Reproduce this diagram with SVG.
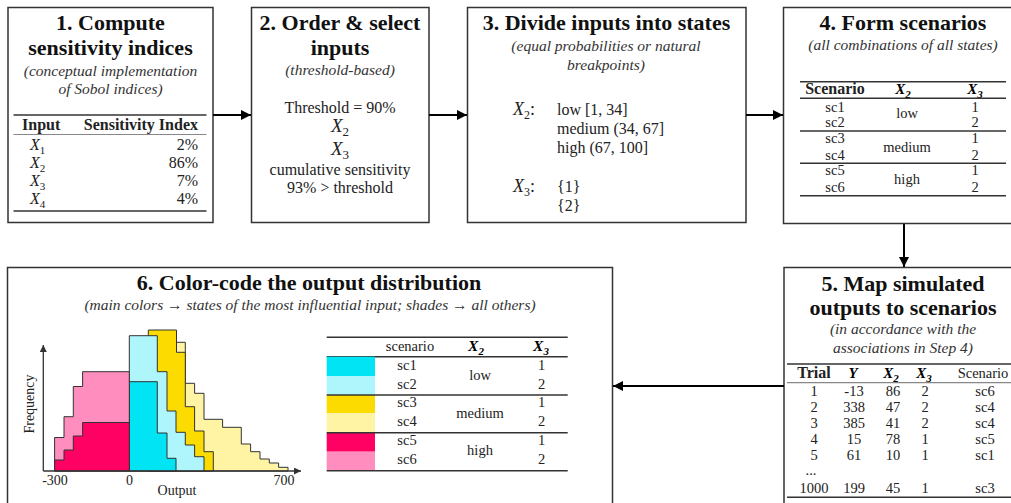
<svg xmlns="http://www.w3.org/2000/svg" width="1011" height="503" viewBox="0 0 1011 503">
  <defs>
    <marker id="head" viewBox="0 0 10 10" refX="10" refY="5" markerWidth="11" markerHeight="10" markerUnits="userSpaceOnUse" orient="auto">
      <path d="M0,0 L10,5 L0,10 z" fill="#000"/>
    </marker>
    <marker id="axhead" viewBox="0 0 10 10" refX="10" refY="5" markerWidth="8" markerHeight="7" markerUnits="userSpaceOnUse" orient="auto">
      <path d="M0,0 L10,5 L0,10 z" fill="#333"/>
    </marker>
  </defs>
  <style>
    .box { fill: #fff; stroke: #333; stroke-width: 1.5; }
    .title { font-family: "Liberation Serif", serif; font-weight: bold; font-size: 22px; fill: #111; text-anchor: middle; }
    .sub { font-family: "Liberation Serif", serif; font-style: italic; font-size: 15.5px; fill: #333; text-anchor: middle; }
    .body { font-family: "Liberation Serif", serif; font-size: 16px; fill: #222; }
    .c { text-anchor: middle; }
    .r { text-anchor: end; }
    .th { font-family: "Liberation Serif", serif; font-weight: bold; font-size: 16px; fill: #222; }
    .tb { font-family: "Liberation Serif", serif; font-size: 14.5px; fill: #222; }
    .math { font-family: "Liberation Serif", serif; font-style: italic; }
    .bm { font-family: "Liberation Serif", serif; font-style: italic; font-weight: bold; }
    .rule { stroke: #333; stroke-width: 1.5; }
    .thin { stroke: #888; stroke-width: 1.2; }
    .conn { stroke: #000; stroke-width: 2; fill: none; marker-end: url(#head); }
    .bar { stroke: #333; stroke-width: 1; stroke-linejoin: miter; }
    .axis { stroke: #333; stroke-width: 1.3; marker-end: url(#axhead); }
    .tick { font-family: "Liberation Serif", serif; font-size: 14px; fill: #222; text-anchor: middle; }
  </style>

  <!-- Step 1 -->
  <g id="step1">
    <rect class="box" x="8" y="7.5" width="205" height="215"/>
    <text class="title" x="110.5" y="30">1. Compute</text>
    <text class="title" x="110.5" y="55">sensitivity indices</text>
    <text class="sub" x="110.5" y="76">(conceptual implementation</text>
    <text class="sub" x="110.5" y="94">of Sobol indices)</text>
    <line class="rule" x1="13.5" y1="115" x2="206.5" y2="115"/>
    <text class="th" x="22" y="130">Input</text>
    <text class="th r" x="198" y="130">Sensitivity Index</text>
    <line class="thin" x1="13.5" y1="134.5" x2="206.5" y2="134.5"/>
    <g class="body">
      <text x="30" y="150"><tspan class="math">X</tspan><tspan font-size="11" dy="4">1</tspan></text>
      <text x="30" y="168"><tspan class="math">X</tspan><tspan font-size="11" dy="4">2</tspan></text>
      <text x="30" y="186"><tspan class="math">X</tspan><tspan font-size="11" dy="4">3</tspan></text>
      <text x="30" y="204"><tspan class="math">X</tspan><tspan font-size="11" dy="4">4</tspan></text>
      <text class="r" x="198" y="150">2%</text>
      <text class="r" x="198" y="168">86%</text>
      <text class="r" x="198" y="186">7%</text>
      <text class="r" x="198" y="204">4%</text>
    </g>
    <line class="rule" x1="13.5" y1="211" x2="206.5" y2="211"/>
  </g>

  <!-- Step 2 -->
  <g id="step2">
    <rect class="box" x="251.5" y="7.5" width="177.5" height="215"/>
    <text class="title" x="340" y="30">2. Order &amp; select</text>
    <text class="title" x="340" y="55">inputs</text>
    <text class="sub" x="340" y="75">(threshold-based)</text>
    <g class="body c">
      <text x="340" y="113">Threshold = 90%</text>
      <text x="340" y="132" font-size="19"><tspan class="math">X</tspan><tspan font-size="13" dy="4">2</tspan></text>
      <text x="340" y="155" font-size="19"><tspan class="math">X</tspan><tspan font-size="13" dy="4">3</tspan></text>
      <text x="340" y="175">cumulative sensitivity</text>
      <text x="340" y="193">93% &gt; threshold</text>
    </g>
  </g>

  <!-- Step 3 -->
  <g id="step3">
    <rect class="box" x="467.5" y="7.5" width="278.5" height="215"/>
    <text class="title" x="606.5" y="30">3. Divide inputs into states</text>
    <text class="sub" x="606" y="51">(equal probabilities or natural</text>
    <text class="sub" x="606" y="70">breakpoints)</text>
    <g class="body">
      <text x="513" y="115" font-size="18"><tspan class="math">X</tspan><tspan font-size="12" dy="4">2</tspan><tspan dy="-4">:</tspan></text>
      <text x="557" y="115">low [1, 34]</text>
      <text x="557" y="134">medium (34, 67]</text>
      <text x="557" y="153">high (67, 100]</text>
      <text x="513" y="192" font-size="18"><tspan class="math">X</tspan><tspan font-size="12" dy="4">3</tspan><tspan dy="-4">:</tspan></text>
      <text x="557" y="192">{1}</text>
      <text x="557" y="211">{2}</text>
    </g>
  </g>

  <!-- Step 4 -->
  <g id="step4">
    <rect class="box" x="783.5" y="7.5" width="240" height="216"/>
    <text class="title" x="903" y="30">4. Form scenarios</text>
    <text class="sub" x="903" y="50">(all combinations of all states)</text>
    <line class="rule" x1="800" y1="81.7" x2="1006" y2="81.7"/>
    <text class="th c" x="835" y="94" font-size="14.5">Scenario</text>
    <text class="bm c" x="903" y="94" font-size="15">X<tspan font-size="11" dy="4">2</tspan></text>
    <text class="bm c" x="975" y="94" font-size="15">X<tspan font-size="11" dy="4">3</tspan></text>
    <line class="rule" x1="800" y1="98.3" x2="1006" y2="98.3"/>
    <g class="tb c">
      <text x="835" y="112">sc1</text>
      <text x="835" y="127">sc2</text>
      <text x="835" y="143">sc3</text>
      <text x="835" y="160">sc4</text>
      <text x="835" y="175">sc5</text>
      <text x="835" y="192">sc6</text>
      <text x="907" y="118">low</text>
      <text x="907" y="152">medium</text>
      <text x="907" y="184">high</text>
      <text x="975" y="112">1</text>
      <text x="975" y="127">2</text>
      <text x="975" y="143">1</text>
      <text x="975" y="160">2</text>
      <text x="975" y="175">1</text>
      <text x="975" y="192">2</text>
    </g>
    <line class="rule" x1="800" y1="131" x2="1006" y2="131"/>
    <line class="rule" x1="800" y1="163.3" x2="1006" y2="163.3"/>
    <line class="rule" x1="800" y1="195.7" x2="1006" y2="195.7"/>
  </g>

  <!-- Step 5 -->
  <g id="step5">
    <rect class="box" x="784" y="267.5" width="260" height="260"/>
    <text class="title" x="903" y="291">5. Map simulated</text>
    <text class="title" x="903" y="315">outputs to scenarios</text>
    <text class="sub" x="903" y="334">(in accordance with the</text>
    <text class="sub" x="903" y="353">associations in Step 4)</text>
    <line class="rule" x1="787" y1="364" x2="1011" y2="364"/>
    <text class="th c" x="814" y="378" font-size="14.5">Trial</text>
    <text class="bm c" x="853" y="378" font-size="15">Y</text>
    <text class="bm c" x="891" y="378" font-size="15">X<tspan font-size="11" dy="4">2</tspan></text>
    <text class="bm c" x="924" y="378" font-size="15">X<tspan font-size="11" dy="4">3</tspan></text>
    <text class="tb c" x="983" y="378">Scenario</text>
    <line class="thin" x1="787" y1="382.7" x2="1011" y2="382.7"/>
    <g class="tb c">
      <text x="814" y="396">1</text><text x="854" y="396">-13</text><text x="893" y="396">86</text><text x="925" y="396">2</text><text x="985" y="396">sc6</text>
      <text x="814" y="412">2</text><text x="854" y="412">338</text><text x="893" y="412">47</text><text x="925" y="412">2</text><text x="985" y="412">sc4</text>
      <text x="814" y="428">3</text><text x="854" y="428">385</text><text x="893" y="428">41</text><text x="925" y="428">2</text><text x="985" y="428">sc4</text>
      <text x="814" y="444">4</text><text x="854" y="444">15</text><text x="893" y="444">78</text><text x="925" y="444">1</text><text x="985" y="444">sc5</text>
      <text x="814" y="460">5</text><text x="854" y="460">61</text><text x="893" y="460">10</text><text x="925" y="460">1</text><text x="985" y="460">sc1</text>
      <text x="811" y="475">...</text>
      <text x="814" y="493">1000</text><text x="854" y="493">199</text><text x="893" y="493">45</text><text x="925" y="493">1</text><text x="985" y="493">sc3</text>
    </g>
    <line class="rule" x1="787" y1="497.3" x2="1011" y2="497.3"/>
  </g>

  <!-- Step 6 -->
  <g id="step6">
    <rect class="box" x="7.5" y="267.5" width="605" height="260"/>
    <text class="title" x="309" y="290">6. Color-code the output distribution</text>
    <text class="sub" x="310" y="310" font-size="14.5">(main colors → states of the most influential input; shades → all others)</text>

    <!-- stacked histogram, back to front -->
    <g id="histogram">
      <polygon class="bar" fill="#FFF4A3" points="150,471 150,342.3 185.3,342.3 185.3,383.3 194.6,383.3 194.6,393.3 204,393.3 204,419.3 222.6,419.3 222.6,427.3 241.3,427.3 241.3,444 250.6,444 250.6,451.7 260,451.7 260,459 269.3,459 269.3,463 278.6,463 278.6,467.3 288,467.3 288,471"/>
      <polygon class="bar" fill="#FCDC00" points="148.3,471 148.3,330 176.5,330 176.5,352.3 185.3,352.3 185.3,406.7 194.6,406.7 194.6,431 204,431 204,451.7 213.3,451.7 213.3,471"/>
      <polygon class="bar" fill="#AEF6FB" points="129.3,471 129.3,335.7 157.3,335.7 157.3,371.7 167,371.7 167,411 176,411 176,432.3 185.3,432.3 185.3,445 194.6,445 194.6,456.7 204,456.7 204,471"/>
      <polygon class="bar" fill="#00E4F4" points="129.3,471 129.3,381.7 157.3,381.7 157.3,433 167,433 167,458.3 176,458.3 176,471"/>
      <polygon class="bar" fill="#FF8DBD" points="54.6,471 54.6,437.5 64,437.5 64,416.7 73.3,416.7 73.3,386.5 82.6,386.5 82.6,371.7 129.3,371.7 129.3,471"/>
      <polygon class="bar" fill="#FF0063" points="54.6,471 54.6,460 64,460 64,450 73.3,450 73.3,436 82.6,436 82.6,422.5 129.3,422.5 129.3,471"/>
      <line class="axis" x1="43.3" y1="471" x2="43.3" y2="345"/>
      <line class="axis" x1="43.3" y1="471" x2="301" y2="471"/>
      <text class="tick" x="55" y="485">-300</text>
      <text class="tick" x="129.5" y="485">0</text>
      <text class="tick" x="284" y="485">700</text>
      <text class="tick" x="177" y="495" font-size="15.5">Output</text>
      <text class="tick" transform="translate(34,404) rotate(-90)" font-size="15.5">Frequency</text>
    </g>

    <!-- legend table -->
    <line class="rule" x1="326.7" y1="337.3" x2="567.7" y2="337.3"/>
    <text class="tb c" x="410" y="351" font-size="15">scenario</text>
    <text class="bm c" x="476" y="351" font-size="15.5">X<tspan font-size="11" dy="4">2</tspan></text>
    <text class="bm c" x="541" y="351" font-size="15.5">X<tspan font-size="11" dy="4">3</tspan></text>
    <line class="rule" x1="326.7" y1="356.7" x2="567.7" y2="356.7"/>
    <rect x="326.7" y="356.7" width="48.3" height="19.3" fill="#00E4F4"/>
    <rect x="326.7" y="376" width="48.3" height="19" fill="#AEF6FB"/>
    <rect x="326.7" y="395" width="48.3" height="18.3" fill="#FCDC00"/>
    <rect x="326.7" y="413.3" width="48.3" height="19.4" fill="#FFF4A3"/>
    <rect x="326.7" y="432.7" width="48.3" height="19" fill="#FF0063"/>
    <rect x="326.7" y="451.7" width="48.3" height="19" fill="#FF8DBD"/>
    <g class="tb c" font-size="15">
      <text x="407" y="370">sc1</text>
      <text x="407" y="388.5">sc2</text>
      <text x="407" y="407">sc3</text>
      <text x="407" y="425.5">sc4</text>
      <text x="407" y="445">sc5</text>
      <text x="407" y="463.5">sc6</text>
      <text x="480" y="380">low</text>
      <text x="480" y="418">medium</text>
      <text x="480" y="455">high</text>
      <text x="541.5" y="370">1</text>
      <text x="541.5" y="388.5">2</text>
      <text x="541.5" y="407">1</text>
      <text x="541.5" y="425.5">2</text>
      <text x="541.5" y="445">1</text>
      <text x="541.5" y="463.5">2</text>
    </g>
    <line class="rule" x1="326.7" y1="395" x2="567.7" y2="395"/>
    <line class="rule" x1="326.7" y1="432.7" x2="567.7" y2="432.7"/>
    <line class="rule" x1="326.7" y1="470.7" x2="567.7" y2="470.7"/>
  </g>

  <!-- connectors -->
  <g id="connectors">
    <line class="conn" x1="213" y1="115" x2="251" y2="115"/>
    <line class="conn" x1="429" y1="115" x2="467" y2="115"/>
    <line class="conn" x1="746" y1="115" x2="783" y2="115"/>
    <line class="conn" x1="904" y1="224" x2="904" y2="267"/>
    <line class="conn" x1="784" y1="386" x2="613" y2="386"/>
  </g>
</svg>
